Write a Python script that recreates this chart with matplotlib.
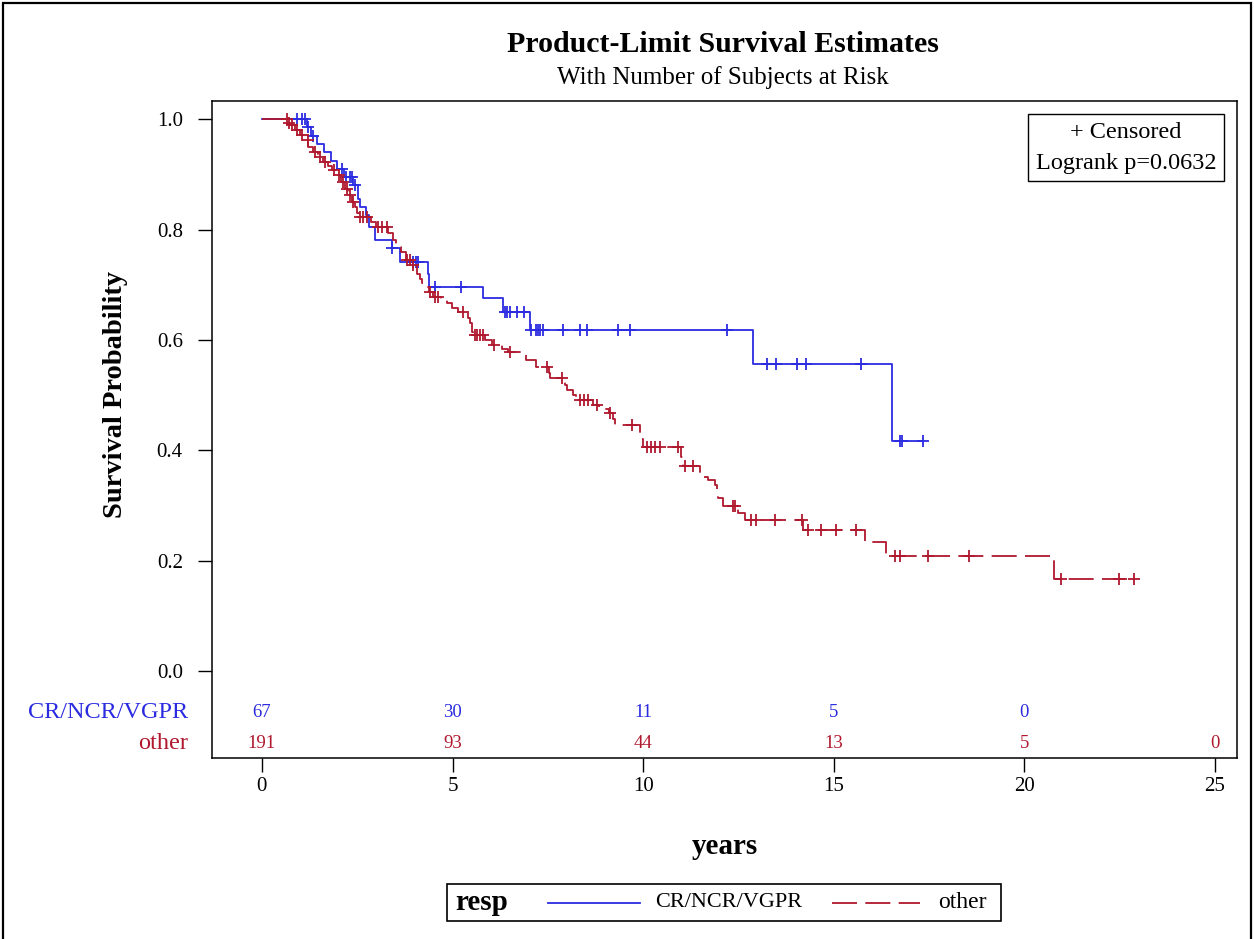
import numpy as np
import matplotlib
matplotlib.use("Agg")
import matplotlib.pyplot as plt
from matplotlib.lines import Line2D
from matplotlib.patches import Rectangle

plt.rcParams['font.family'] = ['Liberation Serif', 'DejaVu Serif']
plt.rcParams['lines.scale_dashes'] = False

BLUE = '#2B2BE0'
RED = '#B0182E'

group_names = ['CR/NCR/VGPR', 'other']

# Kaplan-Meier step function for the CR/NCR/VGPR group
cr_times = [0.0, 1.17, 1.30, 1.45, 1.62, 1.80, 1.98, 2.15, 2.40, 2.52, 2.58, 2.72,
            2.80, 2.96, 3.40, 3.62, 4.35, 4.37, 5.81, 6.33, 7.03, 12.89, 16.53]
cr_surv = [1.0, 0.985, 0.970, 0.955, 0.940, 0.925, 0.910, 0.895, 0.880, 0.856, 0.841, 0.826,
           0.805, 0.781, 0.766, 0.742, 0.719, 0.696, 0.675, 0.651, 0.618, 0.556, 0.417]
cr_end = 17.33
cr_censor = [0.91, 1.04, 1.13, 1.22, 1.35, 2.10, 2.20, 2.30, 2.35, 2.45, 3.42,
             3.95, 4.05, 4.10, 4.54, 5.22, 6.37, 6.42, 6.50, 6.68, 6.87,
             7.07, 7.20, 7.25, 7.29, 7.38, 7.90, 8.34, 8.53, 9.35, 9.65, 12.19,
             13.26, 13.48, 14.03, 14.27, 15.71, 16.75, 16.78, 17.33]

# Kaplan-Meier step function for the other group
other_times = [0.0, 0.69, 0.75, 0.88, 1.00, 1.10, 1.22, 1.35, 1.48, 1.60, 1.73, 1.85,
               1.97, 2.08, 2.17, 2.26, 2.35, 2.45, 2.50, 2.55, 2.85, 2.98, 3.32, 3.45,
               3.53, 3.65, 3.78, 3.95, 4.06, 4.15, 4.20, 4.30, 4.38, 4.49, 4.70, 4.85,
               4.98, 5.15, 5.40, 5.45, 5.50, 5.53, 5.85, 6.03, 6.30, 6.45, 6.93, 7.20,
               7.52, 7.55, 7.95, 8.00, 8.15, 8.25, 8.69, 8.85, 9.10, 9.20, 9.26, 9.92,
               9.97, 10.00, 11.00, 11.05, 11.49, 11.70, 11.88, 11.93, 11.97, 12.10,
               12.50, 12.67, 14.20, 15.82, 16.37, 20.78]
other_surv = [1.0, 0.994, 0.989, 0.980, 0.971, 0.962, 0.950, 0.941, 0.932, 0.923, 0.915, 0.908,
              0.899, 0.886, 0.874, 0.862, 0.850, 0.841, 0.830, 0.823, 0.814, 0.805, 0.793, 0.781,
              0.769, 0.760, 0.745, 0.735, 0.720, 0.710, 0.703, 0.696, 0.687, 0.678, 0.672, 0.666,
              0.657, 0.651, 0.640, 0.630, 0.615, 0.609, 0.600, 0.590, 0.584, 0.578, 0.563, 0.551,
              0.540, 0.530, 0.518, 0.509, 0.500, 0.491, 0.482, 0.474, 0.467, 0.456, 0.446, 0.431,
              0.420, 0.406, 0.388, 0.372, 0.352, 0.346, 0.337, 0.325, 0.313, 0.298,
              0.286, 0.274, 0.255, 0.234, 0.208, 0.166]
other_end = 22.87
other_censor = [0.65, 0.72, 0.78, 0.92, 1.05, 1.20, 1.38, 1.52, 1.66, 1.88, 2.02, 2.12,
                2.22, 2.31, 2.40, 2.57, 2.65, 2.75, 3.05, 3.15, 3.27, 3.80, 3.88, 3.97,
                4.40, 4.55, 4.62, 5.28, 5.58, 5.64, 5.72, 5.80, 6.08, 6.50, 7.47, 7.86,
                8.34, 8.45, 8.55, 8.79, 9.13, 9.70, 10.10, 10.20, 10.30, 10.44, 10.92,
                11.10, 11.30, 12.36, 12.40, 12.83, 12.97, 13.47, 14.16, 14.32, 14.66,
                15.06, 15.59, 16.60, 16.73, 17.47, 18.56, 20.97, 22.48, 22.87]

risk_times = [0, 5, 10, 15, 20, 25]
cr_at_risk = [67, 30, 11, 5, 0]
other_at_risk = [191, 93, 44, 13, 5, 0]
logrank_p = 0.0632

y_ticks = [0.0, 0.2, 0.4, 0.6, 0.8, 1.0]
x_ticks = [0, 5, 10, 15, 20, 25]


def km_value(times, surv, t):
    idx = np.searchsorted(np.asarray(times), np.asarray(t), side='right') - 1
    return np.asarray(surv)[idx]


W, H = 1254, 939
fig = plt.figure(figsize=(W / 100, H / 100), dpi=100)


def fx(px):
    return px / W


def fy(py):
    return 1 - py / H


# outer frame of the graph
fig.add_artist(Rectangle((fx(3), fy(945)), fx(1248), 942 / H, transform=fig.transFigure,
                         fill=False, edgecolor='black', linewidth=1.6))

ax_l, ax_r, ax_t, ax_b = 212, 1237, 101, 758
ax_w, ax_h = ax_r - ax_l, ax_b - ax_t
ax = fig.add_axes([fx(ax_l), fy(ax_b), fx(ax_w), ax_h / H])
ax.set_xlim(-1.31, 25.58)
ax.set_ylim(-0.158, 1.033)

series = [
    (cr_times, cr_surv, cr_end, cr_censor, BLUE, '-'),
    (other_times, other_surv, other_end, other_censor, RED, (0, (18, 6))),
]
for times, surv, end, cens, color, ls in series:
    xs = list(times) + [end]
    ys = list(surv) + [surv[-1]]
    ax.step(xs, ys, where='post', color=color, linewidth=1.3, linestyle=ls)
    ax.plot(cens, km_value(times, surv, cens), linestyle='none', marker='+',
            markersize=9, markeredgewidth=1.3, color=color)

ax.set_yticks(y_ticks)
ax.set_yticklabels([f'{v:.1f}' for v in y_ticks])
ax.set_xticks(x_ticks)
ax.tick_params(axis='both', labelsize=15, length=10, width=1, color='black')
ax.tick_params(axis='x', pad=4)
ax.tick_params(axis='y', pad=11)
for s in ax.spines.values():
    s.set_linewidth(1.1)

ax.set_xlabel('years', fontsize=21, fontweight='bold', va='center')
ax.xaxis.set_label_coords(0.5, (ax_b - 846) / ax_h)
ax.set_ylabel('Survival Probability', fontsize=20.5, fontweight='bold', va='center')
ax.yaxis.set_label_coords((116 - ax_l) / ax_w, (ax_b - 395) / ax_h)

# number at risk rows
row_y = {'CR/NCR/VGPR': -0.076, 'other': -0.132}
for name, counts, color in [(group_names[0], cr_at_risk, BLUE), (group_names[1], other_at_risk, RED)]:
    for t, n in zip(risk_times, counts):
        ax.text(t, row_y[name], str(n), color=color, fontsize=13.5, ha='center', va='center')
    ax.text((188 - ax_l) / ax_w, row_y[name], name, color=color, fontsize=17.5,
            ha='right', va='center', transform=ax.get_yaxis_transform(), clip_on=False)

# inset box with censoring symbol and log-rank test
bx0, bx1, by0, by1 = 1028, 1224, 114, 181
ax.add_patch(Rectangle(((bx0 - ax_l) / ax_w, (ax_b - by1) / ax_h), (bx1 - bx0) / ax_w,
                       (by1 - by0) / ax_h, transform=ax.transAxes, fill=False,
                       edgecolor='black', linewidth=1.0))
ax.text(((bx0 + bx1) / 2 - ax_l) / ax_w, (ax_b - 132) / ax_h, '+ Censored', fontsize=17.5,
        ha='center', va='center', transform=ax.transAxes)
ax.text(((bx0 + bx1) / 2 - ax_l) / ax_w, (ax_b - 164) / ax_h, f'Logrank p={logrank_p:.4f}',
        fontsize=17.5, ha='center', va='center', transform=ax.transAxes)

# titles
fig.text(fx(723), fy(45), 'Product-Limit Survival Estimates', fontsize=21.5, fontweight='bold',
         ha='center', va='center')
fig.text(fx(723), fy(78), 'With Number of Subjects at Risk', fontsize=18,
         ha='center', va='center')

# legend below the plot
lx0, lx1, ly0, ly1 = 447, 1001, 884, 921
fig.add_artist(Rectangle((fx(lx0), fy(ly1)), fx(lx1 - lx0), (ly1 - ly0) / H,
                         transform=fig.transFigure, fill=False, edgecolor='black', linewidth=1.2))
ly = fy((ly0 + ly1) / 2)
fig.text(fx(455), ly, 'resp', fontsize=21, fontweight='bold', ha='left', va='center')
fig.add_artist(Line2D([fx(548), fx(640)], [ly, ly], color=BLUE, linewidth=1.3,
                      transform=fig.transFigure))
fig.text(fx(655), ly, group_names[0], fontsize=16, ha='left', va='center')
fig.add_artist(Line2D([fx(832), fx(920)], [ly, ly], color=RED, linewidth=1.3,
                      linestyle=(0, (18, 6)), transform=fig.transFigure))
fig.text(fx(938), ly, group_names[1], fontsize=17, ha='left', va='center')

fig.savefig('out.png', dpi=100)
